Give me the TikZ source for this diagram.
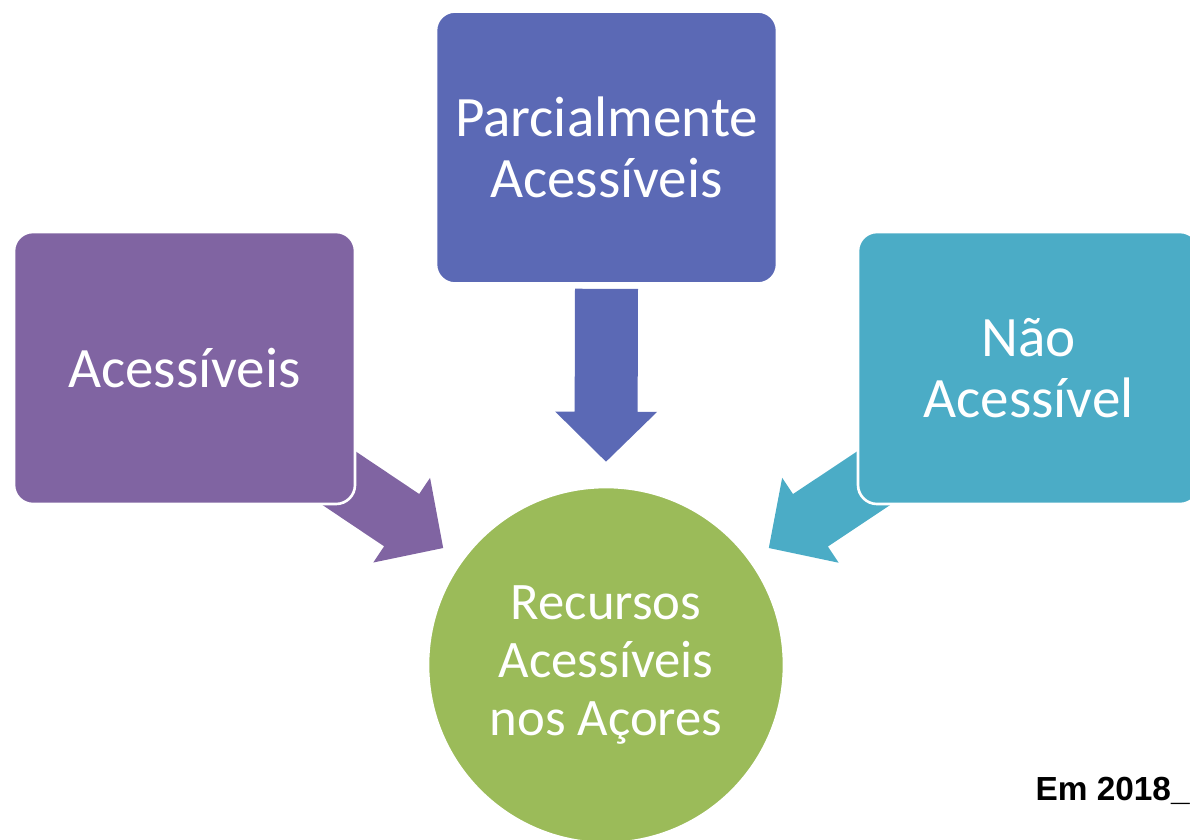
\documentclass[tikz,border=0pt]{standalone}
\usepackage{fontspec}
\setmainfont{Carlito}
\newfontfamily\arialfont{Liberation Sans}
\usetikzlibrary{calc}
\usetikzlibrary{backgrounds}
\definecolor{roxo}{HTML}{8064A2}
\definecolor{azul}{HTML}{5B69B5}
\definecolor{turquesa}{HTML}{4BACC6}
\definecolor{verde}{HTML}{9BBB59}

\tikzset{
    caixa/.style={rectangle, rounded corners=0.38cm, draw=white, line width=1.5pt,
        minimum width=6.82cm, minimum height=5.44cm, text=white, align=center,
        font=\fontsize{32.5}{35}\selectfont},
    centro/.style={circle, draw=white, line width=1.5pt, fill=verde, minimum size=7.12cm,
        text=white, align=center, font=\fontsize{30}{33}\selectfont}
}

% seta larga de #2 ate #3
\newcommand{\setabloco}[3]{%
    \coordinate (#2-base) at ($(#3)!1cm!(#2)$);
    \fill[#1] ($(#2)!0.63cm!90:(#3)$) -- ($(#2-base)!0.63cm!90:(#3)$)
        -- ($(#2-base)!1.02cm!90:(#3)$) -- (#3) -- ($(#2-base)!1.02cm!-90:(#3)$)
        -- ($(#2-base)!0.63cm!-90:(#3)$) -- ($(#2)!0.63cm!-90:(#3)$) -- cycle;
}

\begin{document}
\begin{tikzpicture}
    \useasboundingbox (0,0) rectangle (23.8,-16.8);

    \node[caixa, fill=roxo] (acc) at (3.69,-7.36) {Acessíveis};
    \node[caixa, fill=azul] (parc) at (12.13,-2.95) {Parcialmente\\Acessíveis};
    \node[caixa, fill=turquesa] (nao) at (20.57,-7.36) {Não\\Acessível};
    \node[centro] (rec) at (12.12,-13.3) {Recursos\\Acessíveis\\nos Açores};

    \begin{scope}[on background layer]
        \coordinate (sA) at ($(acc)+(2.25,-1.64)$);
        \coordinate (tA) at ($(rec)+(144.3:4.01)$);
        \coordinate (sP) at ($(parc.south)+(0,-0.08)$);
        \coordinate (tP) at ($(rec.north)+(0,0.48)$);
        \coordinate (sN) at ($(nao)+(-2.25,-1.64)$);
        \coordinate (tN) at ($(rec)+(35.7:4.01)$);
        \setabloco{roxo}{sA}{tA}
        \setabloco{azul}{sP}{tP}
        \setabloco{turquesa}{sN}{tN}
    \end{scope}

    \node[anchor=base east, inner sep=0pt, font=\arialfont\bfseries\fontsize{19}{21}\selectfont] (ano) at (23.8,-16.0) {Em 2018\_};
\end{tikzpicture}
\end{document}
